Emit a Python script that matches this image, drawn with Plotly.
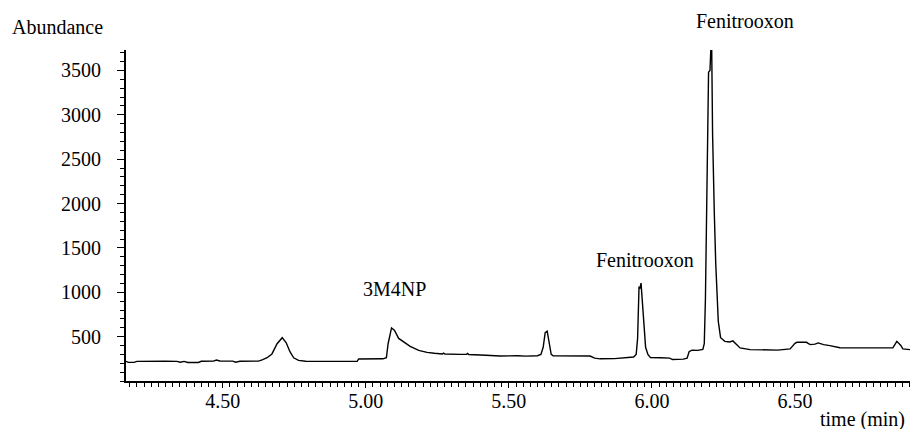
import plotly.graph_objects as go

# Chromatogram trace
time_min = [
    4.162, 4.170, 4.190, 4.200, 4.300, 4.340, 4.352, 4.365, 4.378, 4.415,
    4.425, 4.468, 4.478, 4.490, 4.535, 4.545, 4.560, 4.625, 4.640, 4.655,
    4.672, 4.690, 4.708, 4.722, 4.735, 4.748, 4.765, 4.790, 4.900, 4.970,
    4.975, 5.060, 5.072, 5.078, 5.090, 5.100, 5.115, 5.130, 5.155, 5.185,
    5.214, 5.240, 5.268, 5.272, 5.276, 5.330, 5.352, 5.356, 5.360, 5.420,
    5.469, 5.530, 5.560, 5.600, 5.612, 5.620, 5.627, 5.634, 5.641, 5.648,
    5.655, 5.700, 5.784, 5.800, 5.819, 5.870, 5.915, 5.936, 5.945, 5.950,
    5.955, 5.958, 5.962, 5.966, 5.971, 5.978, 5.986, 5.995, 6.030, 6.062,
    6.072, 6.110, 6.123, 6.130, 6.140, 6.160, 6.178, 6.183, 6.187, 6.192,
    6.198, 6.203, 6.206, 6.209, 6.212, 6.218, 6.223, 6.232, 6.240, 6.255,
    6.272, 6.283, 6.292, 6.308, 6.343, 6.400, 6.440, 6.483, 6.500, 6.507,
    6.540, 6.553, 6.570, 6.581, 6.600, 6.622, 6.657, 6.760, 6.842, 6.856,
    6.870, 6.877, 6.902,
]
abundance = [
    222, 210, 210, 221, 222, 221, 211, 221, 209, 209,
    222, 224, 236, 226, 224, 212, 222, 224, 240, 262,
    305, 420, 488, 430, 330, 262, 232, 222, 221, 222,
    248, 250, 262, 420, 598, 572, 480, 447, 390, 345,
    322, 312, 305, 315, 304, 300, 300, 310, 298, 290,
    282, 284, 280, 285, 300, 380, 545, 562, 420, 300,
    284, 283, 281, 258, 250, 252, 262, 270, 300, 480,
    1065, 1040, 1103, 900, 620, 380, 300, 263, 262, 258,
    242, 246, 258, 330, 348, 345, 355, 420, 920, 2040,
    3480, 3500, 3747, 3747, 2790, 1900, 1330, 672, 488, 447,
    440, 452, 420, 373, 354, 346, 348, 362, 425, 436,
    436, 410, 416, 429, 410, 399, 375, 373, 373, 447,
    400, 362, 354,
]

x_range = [4.162, 6.902]
y_range = [0, 3730]
y_tick_vals = [500, 1000, 1500, 2000, 2500, 3000, 3500]
x_tick_vals = [4.5, 5.0, 5.5, 6.0, 6.5]
x_tick_text = ["4.50", "5.00", "5.50", "6.00", "6.50"]

peak_names = ["3M4NP", "Fenitrooxon", "Fenitrooxon"]
axis_title_x = "time (min)"
axis_title_y = "Abundance"

FONT = "Liberation Serif"
FS = 20

fig = go.Figure()
fig.add_trace(go.Scatter(
    x=time_min, y=abundance, mode="lines",
    line=dict(color="black", width=1.4),
    hoverinfo="skip", showlegend=False,
))

fig.update_layout(
    width=910, height=429,
    margin=dict(l=126, r=0, t=50, b=48),
    paper_bgcolor="white", plot_bgcolor="white",
    font=dict(family=FONT, size=FS, color="black"),
    showlegend=False,
)

fig.update_xaxes(
    range=x_range, showline=True, linecolor="black", linewidth=2,
    showgrid=False, zeroline=False,
    ticks="outside", ticklen=5, tickwidth=1.3, tickcolor="black",
    tickmode="array", tickvals=x_tick_vals, ticktext=x_tick_text,
    tickfont=dict(family=FONT, size=FS, color="black"),
    ticklabelstandoff=-4,
    minor=dict(tickmode="linear", tick0=4.5, dtick=0.025, ticks="outside",
               ticklen=4, tickwidth=1, tickcolor="black", showgrid=False),
)
fig.update_yaxes(
    range=y_range, showline=True, linecolor="black", linewidth=2,
    showgrid=False, zeroline=False,
    ticks="outside", ticklen=7, tickwidth=1.3, tickcolor="black",
    tickmode="array", tickvals=y_tick_vals,
    tickfont=dict(family=FONT, size=FS, color="black"),
    ticklabelstandoff=12,
    minor=dict(tickmode="linear", tick0=0, dtick=100, ticks="outside",
               ticklen=4, tickwidth=1, tickcolor="black", showgrid=False),
)

ann_font = dict(family=FONT, size=FS, color="black")
annotations = [
    dict(text=axis_title_y, x=-0.148, y=1.0695, xanchor="left", yanchor="middle"),
    dict(text=axis_title_x, x=0.939, y=-0.116, xanchor="center", yanchor="middle"),
    dict(text=peak_names[0], x=0.343, y=0.278, xanchor="center", yanchor="middle"),
    dict(text=peak_names[1], x=0.662, y=0.3656, xanchor="center", yanchor="middle"),
    dict(text=peak_names[2], x=0.7895, y=1.0876, xanchor="center", yanchor="middle"),
]
for a in annotations:
    fig.add_annotation(xref="paper", yref="paper", showarrow=False, font=ann_font, **a)

fig.write_html(
    "out.html",
    config={"displayModeBar": False},
    post_script="document.body.style.margin='0';document.body.style.overflow='hidden';",
)
